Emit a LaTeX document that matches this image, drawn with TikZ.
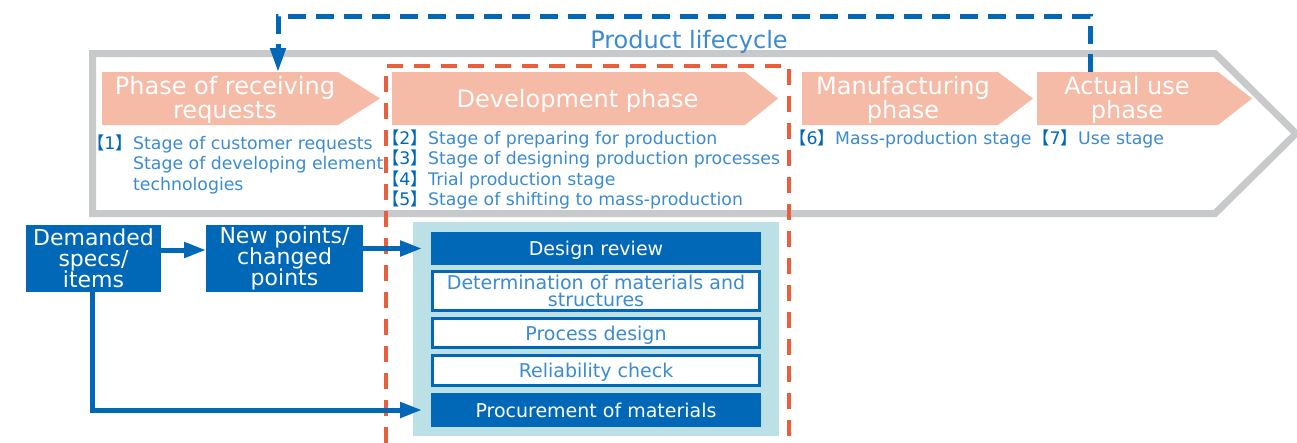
\documentclass[tikz,border=0pt]{standalone}
\usepackage{fontspec}
\setmainfont{DejaVu Sans}
\newfontfamily\cjk{Noto Sans CJK JP}
\usetikzlibrary{arrows.meta}
\newcommand\mytightlines{\lineskiplimit=-100pt\relax}
\definecolor{grayline}{HTML}{C8C9CA}
\definecolor{salmon}{HTML}{F5BBA7}
\definecolor{dblue}{HTML}{0068B7}
\definecolor{tblue}{HTML}{3A8BD2}
\definecolor{lblue}{HTML}{BBE1E7}
\definecolor{redd}{HTML}{EB5E3C}
\tikzset{
  stg/.style={font=\fontsize{17.3}{20}\selectfont, text=tblue, inner sep=0pt, anchor=base west},
  brk/.style={font=\fontsize{17.3}{20}\selectfont, text=dblue, inner sep=0pt, anchor=base east},
  ph/.style={font={\fontsize{24}{23.5}\selectfont\mytightlines}, text=white, inner sep=0pt, align=center},
  ibox/.style={minimum width=327pt, inner sep=0pt, outer sep=0pt, font={\fontsize{19}{17}\selectfont\mytightlines}, align=center},
  darkbox/.style={ibox, minimum width=330pt, fill=dblue, text=white, text height=14pt, text depth=0pt},
  whitebox/.style={ibox, fill=white, draw=dblue, line width=2.6pt, text=tblue},
  bluebox/.style={fill=dblue, text=white, inner sep=0pt, outer sep=0pt, minimum height=67pt, align=center, font={\fontsize{22}{21}\selectfont\mytightlines}},
  barrow/.style={draw=dblue, line width=5pt, -{Triangle[length=22pt,width=15pt]}},
}
\begin{document}
\begin{tikzpicture}[x=1pt,y=-1pt]
\useasboundingbox (0,0) rectangle (1297,442);
% product lifecycle outline
\draw[grayline, line width=7pt, line join=miter] (92.5,53.5) -- (1215,53.5) -- (1296,133.5) -- (1215,213.5) -- (92.5,213.5) -- cycle;
\node[font=\fontsize{24}{26}\selectfont, text=tblue, inner sep=0pt, anchor=base] (title) at (689,48) {Product lifecycle};
% phase arrows
\fill[salmon] (102,72) -- (338,72) -- (380,98.5) -- (338,125) -- (102,125) -- cycle;
\fill[salmon] (392,72) -- (745,72) -- (778,98.5) -- (745,125) -- (392,125) -- cycle;
\fill[salmon] (802,72) -- (998,72) -- (1033,98.5) -- (998,125) -- (802,125) -- cycle;
\fill[salmon] (1037,72) -- (1218,72) -- (1252,98.5) -- (1218,125) -- (1037,125) -- cycle;
\node[ph] (ph1) at (225,100) {Phase of receiving\\requests};
\node[ph, anchor=base] (ph2) at (577.5,107) {Development phase};
\node[ph] (ph3) at (903,100) {Manufacturing\\phase};
\node[ph] (ph4) at (1127,100) {Actual use\\phase};
% stage texts
\node[brk] (b1) at (133,149) {{\cjk 【}1{\cjk 】}};
\node[stg] (s1a) at (133,149) {Stage of customer requests};
\node[stg] (s1b) at (133,169.5) {Stage of developing element};
\node[stg] (s1c) at (133,190) {technologies};
\node[brk] (b2) at (428,144) {{\cjk 【}2{\cjk 】}};
\node[stg] (s2) at (428,144) {Stage of preparing for production};
\node[brk] (b3) at (428,164.5) {{\cjk 【}3{\cjk 】}};
\node[stg] (s3) at (428,164.5) {Stage of designing production processes};
\node[brk] (b4) at (428,185) {{\cjk 【}4{\cjk 】}};
\node[stg] (s4) at (428,185) {Trial production stage};
\node[brk] (b5) at (428,205.5) {{\cjk 【}5{\cjk 】}};
\node[stg] (s5) at (428,205.5) {Stage of shifting to mass-production};
\node[brk] (b6) at (835,144) {{\cjk 【}6{\cjk 】}};
\node[stg] (s6) at (835,144) {Mass-production stage};
\node[brk] (b7) at (1078,144) {{\cjk 【}7{\cjk 】}};
\node[stg] (s7) at (1078,144) {Use stage};
% development dashed frame
\draw[redd, line width=3.5pt, dash pattern=on 16pt off 11pt] (386,470) -- (386,66) -- (789,66) -- (789,470);
% light blue panel
\fill[lblue] (413,222) rectangle (779,436);
\node[darkbox, minimum height=33pt] (design) at (596,248.5) {Design review};
\node[whitebox, minimum height=39pt] (determ) at (596,291) {Determination of materials and\\structures};
\node[whitebox, minimum height=29pt, text height=14pt, text depth=0pt] (process) at (596,333) {Process design};
\node[whitebox, minimum height=30pt, text height=14pt, text depth=0pt] (reliab) at (596,370.5) {Reliability check};
\node[darkbox, minimum height=34pt] (proc) at (596,410) {Procurement of materials};
% left boxes
\node[bluebox, minimum width=135pt] (dem) at (93.5,258.5) {Demanded\\specs/\\items};
\node[bluebox, minimum width=157pt] (newp) at (284.5,258.5) {New points/\\changed\\points};
% connectors
\draw[barrow] ([yshift=8.5pt]dem.east) -- ([yshift=8.5pt]newp.west);
\draw[barrow, shorten >=9pt] (newp.east |- design.west) -- (design.west);
\draw[barrow, shorten >=9pt] ([xshift=-1.5pt]dem.south) |- (proc.west);
% feedback dashed line
\coordinate (p1top) at (278,72);
\coordinate (p4top) at (1090,72);
\draw[dblue, line width=5pt, line join=miter, dash pattern=on 18pt off 10pt, -{Triangle[length=24pt,width=15pt]}] (p4top) -- (1090,16) -- (278,16) -- (p1top);
\end{tikzpicture}
\end{document}
